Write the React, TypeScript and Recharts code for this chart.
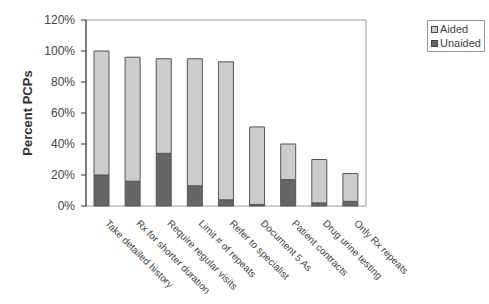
import { BarChart, Bar, XAxis, YAxis, Legend, ReferenceArea } from "recharts";

const categories = [
  "Take detailed history",
  "Rx for shorter duration",
  "Require regular visits",
  "Limit # of repeats",
  "Refer to specialist",
  "Document 5 As",
  "Patient contracts",
  "Drug urine testing",
  "Only Rx repeats",
];
const unaided = [20, 16, 34, 13, 4, 1, 17, 2, 3];
const aided = [80, 80, 61, 82, 89, 50, 23, 28, 18];
const yTicks = [0, 20, 40, 60, 80, 100, 120];
const boundaryTicks = [0, 1, 2, 3, 4, 5, 6, 7, 8, 9];

const data = categories.map((name, i) => ({
  name,
  unaided: unaided[i],
  aided: aided[i],
  pos: i + 0.5,
}));

const FONT = "Liberation Sans, Arial, sans-serif";

const CatTick = ({ x, y, payload }: any) => {
  const tx = x + 3;
  const ty = y + 10;
  return (
    <text
      x={tx}
      y={ty}
      transform={`rotate(45, ${tx}, ${ty})`}
      textAnchor="start"
      fontSize={10}
      fill="#444"
      fontFamily={FONT}
    >
      {payload.value}
    </text>
  );
};

const YLabel = ({ viewBox }: any) => {
  const cy = viewBox.y + viewBox.height / 2;
  const cx = 32;
  return (
    <text
      x={cx}
      y={cy}
      transform={`rotate(-90, ${cx}, ${cy})`}
      textAnchor="middle"
      fontSize={13}
      fontWeight="bold"
      fill="#333"
      fontFamily={FONT}
    >
      Percent PCPs
    </text>
  );
};

const LegendBox = () => (
  <div
    style={{
      border: "1px solid #999",
      background: "#fff",
      padding: "1px 3px 1px 3px",
      fontFamily: FONT,
      fontSize: 11,
      color: "#444",
      lineHeight: "13px",
      whiteSpace: "nowrap",
    }}
  >
    {[
      { label: "Aided", color: "#cccccc" },
      { label: "Unaided", color: "#666666" },
    ].map((it) => (
      <div key={it.label} style={{ display: "flex", alignItems: "center", height: 14 }}>
        <span
          style={{
            display: "inline-block",
            flexShrink: 0,
            width: 5,
            height: 5,
            background: it.color,
            border: "1px solid #444",
            marginRight: 2,
          }}
        />
        {it.label}
      </div>
    ))}
  </div>
);

export default function App() {
  return (
    <div style={{ width: 489, height: 304, background: "#fff" }}>
      <style>{"body{margin:0}"}</style>
      <BarChart
        width={489}
        height={304}
        data={data}
        margin={{ top: 20, right: 65, bottom: 0, left: 0 }}
        barCategoryGap={0}
      >
        <ReferenceArea y1={0} y2={120} fill="none" stroke="#999" strokeWidth={1} />
        <XAxis
          xAxisId="ticks"
          type="number"
          dataKey="pos"
          domain={[0, 9]}
          ticks={boundaryTicks}
          tick={false}
          tickSize={3}
          height={0}
          axisLine={{ stroke: "#333" }}
          tickLine={{ stroke: "#333" }}
        />
        <XAxis
          dataKey="name"
          interval={0}
          height={98}
          axisLine={false}
          tickLine={false}
          tick={<CatTick />}
        />
        <YAxis
          domain={[0, 120]}
          ticks={yTicks}
          width={86}
          tickFormatter={(v) => `${v}%`}
          tick={{ fontSize: 12, fill: "#444", fontFamily: FONT }}
          tickSize={5}
          tickMargin={6}
          axisLine={{ stroke: "#333" }}
          tickLine={{ stroke: "#333" }}
          label={<YLabel />}
        />
        <Legend
          layout="vertical"
          verticalAlign="top"
          align="right"
          content={<LegendBox />}
          wrapperStyle={{ top: 20, left: 427, width: "auto" }}
        />
        <Bar
          dataKey="unaided"
          stackId="a"
          fill="#666666"
          stroke="#555"
          strokeWidth={1}
          barSize={15}
          isAnimationActive={false}
        />
        <Bar
          dataKey="aided"
          stackId="a"
          fill="#cccccc"
          stroke="#555"
          strokeWidth={1}
          barSize={15}
          isAnimationActive={false}
        />
      </BarChart>
    </div>
  );
}
